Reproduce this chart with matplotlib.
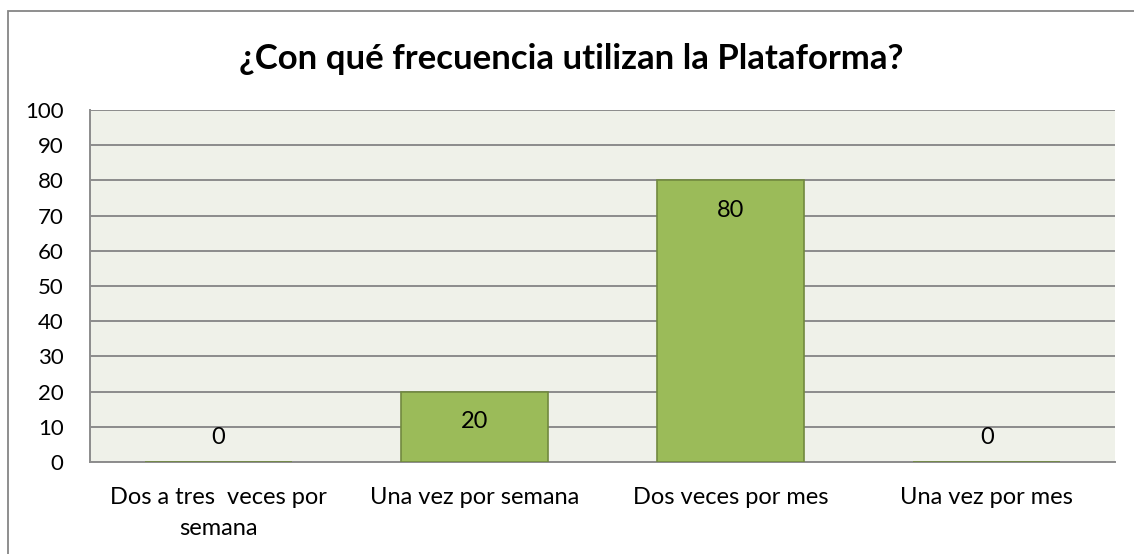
import matplotlib.pyplot as plt
from matplotlib.patches import Rectangle

plt.rcParams['font.family'] = ['Lato', 'DejaVu Sans']

categorias = ['Dos a tres  veces por\nsemana', 'Una vez por semana',
              'Dos veces por mes', 'Una vez por mes']
valores = [0, 20, 80, 0]
titulo = '¿Con qué frecuencia utilizan la Plataforma?'

fig = plt.figure(figsize=(11.34, 5.54), dpi=100)
# marco exterior del grafico
fig.patches.append(Rectangle((8 / 1134, -0.1), 1.2, 1 - 11 / 554 + 0.1,
                             transform=fig.transFigure, fill=False,
                             edgecolor='#868686', linewidth=1.3))

ax = fig.add_axes([90 / 1134, 1 - 462 / 554, 1025 / 1134, 352 / 554])
ax.set_facecolor('#EFF1E9')

x = list(range(len(categorias)))
barras = ax.bar(x, valores, width=0.574, color='#9BBB59', edgecolor='#71893F',
                linewidth=1.2, zorder=3)

for i, v in enumerate(valores):
    dy = -21.5 if v > 0 else 18
    ax.annotate(str(v), (i, v), xytext=(0, dy), textcoords='offset points',
                ha='center', va='center', fontsize=17, zorder=4)

ax.set_xlim(-0.5, 3.5)
ax.set_ylim(0, 100)
ax.set_yticks(range(0, 101, 10))
ax.yaxis.grid(True, color='#8C8C8C', linewidth=1.4, zorder=1)
ax.set_axisbelow(True)
ax.set_xticks(x)
ax.set_xticklabels(categorias, fontsize=17, linespacing=1.6)
ax.tick_params(axis='x', length=0, pad=18)
ax.tick_params(axis='y', length=0, pad=19, labelsize=16)
for lbl in ax.get_yticklabels():
    lbl.set_horizontalalignment('right')

for s in ['top', 'right']:
    ax.spines[s].set_visible(False)
for s in ['left', 'bottom']:
    ax.spines[s].set_color('#8C8C8C')
    ax.spines[s].set_linewidth(1.4)

fig.text(571 / 1134, 1 - 59 / 554, titulo, ha='center', va='center',
         fontsize=25, fontweight='bold')

fig.savefig('out.png', dpi=100)
